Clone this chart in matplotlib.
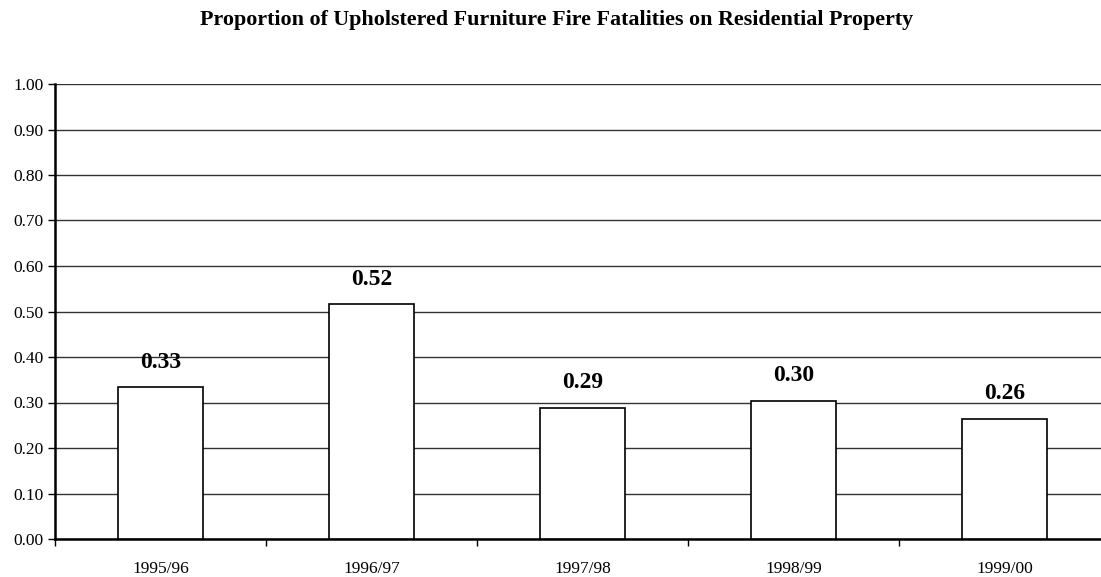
import matplotlib.pyplot as plt
import numpy as np

years = ["1995/96", "1996/97", "1997/98", "1998/99", "1999/00"]
proportions = [0.334, 0.516, 0.288, 0.304, 0.264]

plt.rcParams["font.family"] = ["Liberation Serif", "DejaVu Serif"]

fig = plt.figure(figsize=(11.01, 5.77), dpi=100)
ax = fig.add_axes([55 / 1101, 38 / 577, 1055 / 1101, 455 / 577])

x = np.arange(len(years))
ax.bar(x, proportions, width=0.40, color="white", edgecolor="black",
       linewidth=1.2, zorder=3)

for xi, v in zip(x, proportions):
    ax.text(xi, v + 0.055, f"{v:.2f}", ha="center", va="center",
            fontsize=17, fontweight="bold")

ax.set_xlim(-0.5, len(years) - 0.5)
ax.set_ylim(0, 1.0)
ax.set_yticks(np.arange(0, 1.01, 0.1))
ax.set_yticklabels([f"{t:.2f}" for t in np.arange(0, 1.01, 0.1)], fontsize=12.5)
ax.yaxis.grid(True, color="#333333", linewidth=1.0, zorder=0)

# category labels centred, tick marks between categories
ax.set_xticks(x)
ax.set_xticklabels(years, fontsize=12.5)
ax.tick_params(axis="x", length=0, pad=16)
ax.set_xticks(np.arange(-0.5, len(years), 1.0), minor=True)
ax.tick_params(axis="x", which="minor", length=5, width=1, direction="out")
ax.tick_params(axis="y", length=5, width=1, direction="out", pad=3)

for side in ["top", "right"]:
    ax.spines[side].set_visible(False)
ax.spines["left"].set_linewidth(1.8)
ax.spines["bottom"].set_linewidth(1.8)

fig.text(557 / 1101, 1 - 20 / 577, "Proportion of Upholstered Furniture Fire Fatalities on Residential Property",
         ha="center", va="center", fontsize=15.8, fontweight="bold")

fig.savefig("out.png", dpi=100)
